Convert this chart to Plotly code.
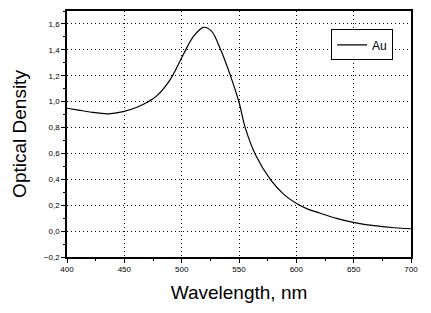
import plotly.graph_objects as go

wavelength = [400, 410, 420, 436, 449, 461, 470, 478.5, 490, 501.8, 510, 519, 526, 534, 542.6, 550, 555.7, 564.5, 577.6, 589.3, 601, 610, 621, 635, 650.5, 670, 685.5, 700]
optical_density = [0.949, 0.935, 0.92, 0.906, 0.923, 0.957, 0.995, 1.046, 1.17, 1.37, 1.5, 1.574, 1.545, 1.40, 1.199, 0.995, 0.791, 0.587, 0.395, 0.282, 0.21, 0.17, 0.138, 0.098, 0.066, 0.04, 0.026, 0.018]

x_ticks = [400, 450, 500, 550, 600, 650, 700]
y_ticks = [-0.2, 0.0, 0.2, 0.4, 0.6, 0.8, 1.0, 1.2, 1.4, 1.6]

fig = go.Figure()
fig.add_trace(go.Scatter(x=wavelength, y=optical_density, mode="lines", name="Au",
                         line=dict(color="black", width=1.2, shape="spline", smoothing=1.0)))

axis_common = dict(showline=True, linecolor="black", linewidth=1.5, mirror=True,
                   ticks="outside", ticklen=4, tickcolor="black", tickwidth=1,
                   showgrid=True, gridcolor="black", gridwidth=1, griddash="1px,3px",
                   zeroline=False,
                   tickfont=dict(family="Liberation Sans, Arial", size=8, color="black"))

fig.update_xaxes(range=[400, 700], tickvals=x_ticks,
                 minor=dict(ticks="outside", ticklen=2, dtick=25, tick0=400, tickcolor="black", showgrid=False),
                 title=dict(text="Wavelength, nm", font=dict(family="Liberation Sans, Arial", size=19, color="black"), standoff=12),
                 **axis_common)
fig.update_yaxes(range=[-0.2, 1.7], tickvals=y_ticks, tickformat=".1f",
                 minor=dict(ticks="outside", ticklen=2, dtick=0.1, tick0=0, tickcolor="black", showgrid=False),
                 title=dict(text="Optical Density", font=dict(family="Liberation Sans, Arial", size=19, color="black"), standoff=12),
                 **axis_common)

fig.update_layout(
    width=431, height=313,
    margin=dict(l=67, r=20, t=9, b=56),
    paper_bgcolor="white", plot_bgcolor="white",
    separators=", ",
    showlegend=True,
    legend=dict(x=0.948, y=0.925, xanchor="right", yanchor="top",
                bordercolor="black", borderwidth=1, bgcolor="white",
                font=dict(family="Liberation Sans, Arial", size=12, color="black"),
                itemwidth=30, tracegroupgap=0),
)

fig.write_html("out.html")
